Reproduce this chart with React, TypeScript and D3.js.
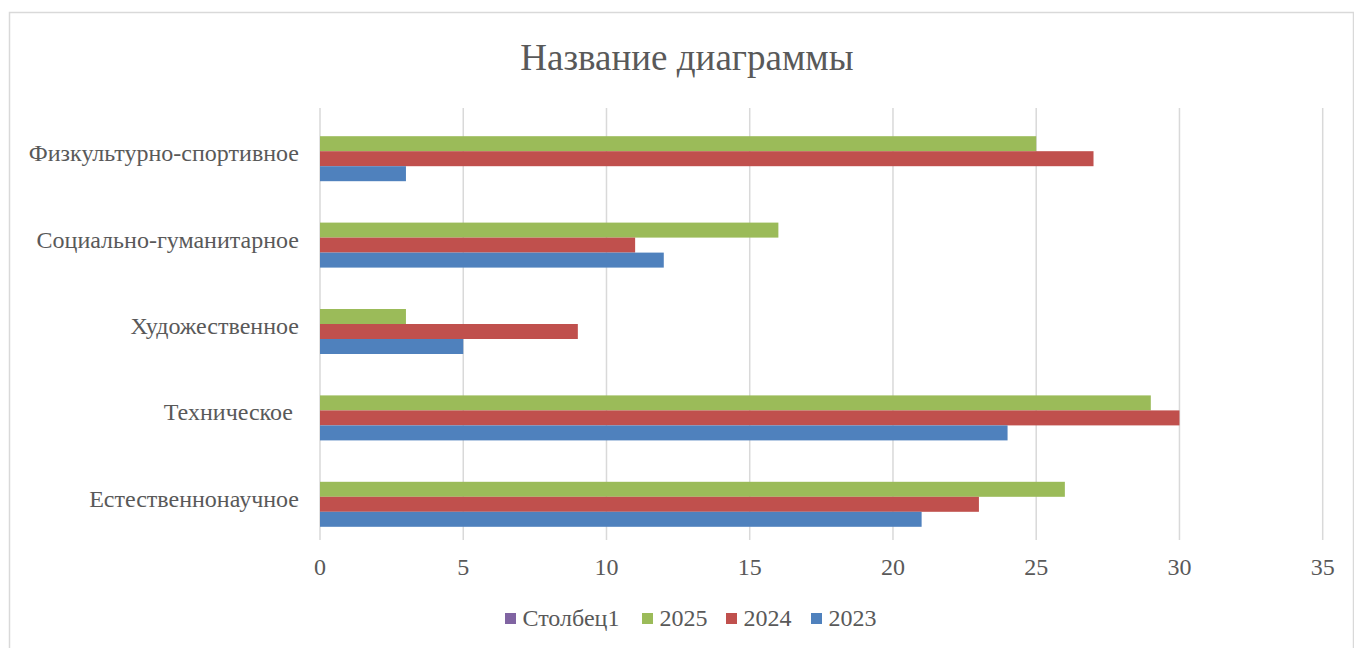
import React from "react";
import * as d3 from "d3";

// categories listed bottom-to-top, like the spreadsheet
const categories = [
  "Естественнонаучное",
  "Техническое ",
  "Художественное",
  "Социально-гуманитарное",
  "Физкультурно-спортивное",
];
const values2023 = [21, 24, 5, 12, 3];
const values2024 = [23, 30, 9, 11, 27];
const values2025 = [26, 29, 3, 16, 25];
const valuesStolbec1: (number | null)[] = [null, null, null, null, null];

const seriesNames = ["Столбец1", "2025", "2024", "2023"];
const seriesColors = ["#8064A2", "#9BBB59", "#C0504D", "#4F81BD"];
const xTicks = [0, 5, 10, 15, 20, 25, 30, 35];

const W = 1354;
const H = 648;
const font = "'Liberation Serif', 'Times New Roman', serif";
const textColor = "#595959";

export default function App() {
  const plot = { left: 320, right: 1322.7, top: 108, bottom: 540 };

  const x = d3.scaleLinear().domain([0, 35]).range([plot.left, plot.right]);
  const y = d3
    .scaleBand<string>()
    .domain(categories.slice().reverse())
    .range([plot.top, plot.bottom])
    .padding(0);
  const inner = d3
    .scaleBand<string>()
    .domain(seriesNames)
    .range([0, y.bandwidth()])
    .paddingInner(0)
    .paddingOuter(0.88);

  const seriesValues = [valuesStolbec1, values2025, values2024, values2023];

  const legendX = [505, 642, 726, 811];

  return (
    <svg width={W} height={H} style={{ position: "absolute", left: 0, top: 0 }}>
      <rect x={0} y={0} width={W} height={H} fill="#fff" />
      <rect x={9.5} y={12.5} width={1344} height={700} fill="none" stroke="#D9D9D9" strokeWidth={1.5} />
      <text x={687} y={57} textAnchor="middle" dominantBaseline="central" fontFamily={font} fontSize={37} fill={textColor}>
        Название диаграммы
      </text>

      {xTicks.map((t) => (
        <line key={t} x1={x(t)} x2={x(t)} y1={plot.top} y2={plot.bottom} stroke="#D9D9D9" strokeWidth={1.5} />
      ))}

      {categories.map((c, ci) => (
        <g key={c} transform={`translate(0,${y(c)})`}>
          {seriesNames.map((s, si) => {
            const v = seriesValues[si][ci];
            if (v == null) return null;
            return (
              <rect
                key={s}
                x={x(0)}
                y={inner(s)}
                width={x(v) - x(0)}
                height={inner.bandwidth()}
                fill={seriesColors[si]}
              />
            );
          })}
          <text
            x={299}
            y={y.bandwidth() / 2 + 2}
            textAnchor="end"
            dominantBaseline="central"
            fontFamily={font}
            fontSize={24}
            fill={textColor}
            style={{ whiteSpace: "pre" }}
          >
            {c}
          </text>
        </g>
      ))}

      {xTicks.map((t) => (
        <text key={t} x={x(t)} y={567} textAnchor="middle" dominantBaseline="central" fontFamily={font} fontSize={24} fill={textColor}>
          {t}
        </text>
      ))}

      {seriesNames.map((s, i) => (
        <g key={s} transform={`translate(${legendX[i]},0)`}>
          <rect x={0} y={613} width={11} height={11} fill={seriesColors[i]} />
          <text x={17.5} y={618} dominantBaseline="central" fontFamily={font} fontSize={24} fill={textColor}>
            {s}
          </text>
        </g>
      ))}
    </svg>
  );
}
